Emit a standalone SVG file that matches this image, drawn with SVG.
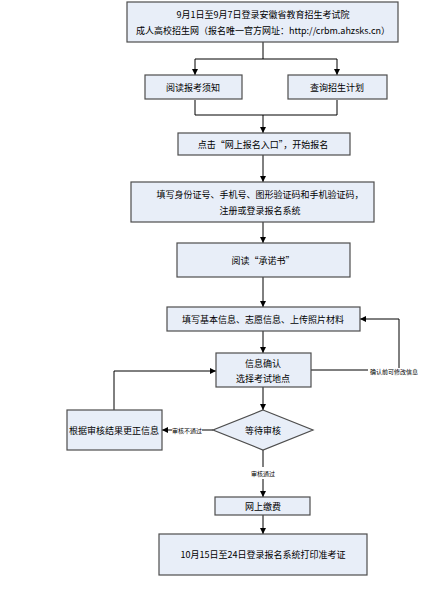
<svg xmlns="http://www.w3.org/2000/svg" width="427" height="594" viewBox="0 0 427 594">
<style>
.box{fill:#e8eef8;stroke:#4d4d4d;stroke-width:1.2}
.t{font-family:"Noto Sans CJK SC","Liberation Sans",sans-serif;font-size:9px;fill:#000;text-anchor:middle;dominant-baseline:central}
.s{font-family:"Noto Sans CJK SC","Liberation Sans",sans-serif;font-size:6px;fill:#000;text-anchor:middle;dominant-baseline:central}
.c{fill:none;stroke:#000;stroke-width:1}
</style>
<defs>
<marker id="a" viewBox="0 0 8 8" refX="8" refY="4" markerWidth="6" markerHeight="6" markerUnits="userSpaceOnUse" orient="auto"><path d="M0,0 L8,4 L0,8 z" fill="#000"/></marker>
</defs>
<rect width="427" height="594" fill="#fff"/>
<g id="connectors">
<path class="c" d="M263,42 V59 H337 V75" marker-end="url(#a)"/>
<path class="c" d="M263,59 H195 V75" marker-end="url(#a)"/>
<path class="c" d="M195,100 V115 H337 V100"/>
<path class="c" d="M263,115 V133" marker-end="url(#a)"/>
<path class="c" d="M263,155 V182" marker-end="url(#a)"/>
<path class="c" d="M263,222 V243" marker-end="url(#a)"/>
<path class="c" d="M263,277 V307" marker-end="url(#a)"/>
<path class="c" d="M263,331 V353" marker-end="url(#a)"/>
<path class="c" d="M311,370 H368"/>
<path class="c" d="M399,368 V319 H360" marker-end="url(#a)"/>
<path class="c" d="M114,410 V371 H216" marker-end="url(#a)"/>
<path class="c" d="M263,387 V410" marker-end="url(#a)"/>
<path class="c" d="M213,430 H202"/>
<path class="c" d="M172,430 H162" marker-end="url(#a)"/>
<path class="c" d="M263,450 V467"/>
<path class="c" d="M263,479 V497" marker-end="url(#a)"/>
<path class="c" d="M263,515 V534" marker-end="url(#a)"/>
<text class="s" x="394" y="371">确认前可修改信息</text>
<text class="s" x="187" y="430">审核不通过</text>
<text class="s" x="263" y="473">审核通过</text>
</g>
<g id="n1"><rect class="box" x="127" y="2" width="271" height="40"/><text class="t" x="263" y="14">9月1日至9月7日登录安徽省教育招生考试院</text><text class="t" x="263" y="30">成人高校招生网（报名唯一官方网址：http://crbm.ahzsks.cn）</text></g>
<g id="n2"><rect class="box" x="145" y="75" width="97" height="24"/><text class="t" x="193" y="87">阅读报考须知</text></g>
<g id="n3"><rect class="box" x="288" y="75" width="99" height="24"/><text class="t" x="337" y="87">查询招生计划</text></g>
<g id="n4"><rect class="box" x="178" y="133" width="172" height="22"/><text class="t" x="263" y="144">点击“网上报名入口”，开始报名</text></g>
<g id="n5"><rect class="box" x="131" y="182" width="243" height="40"/><text class="t" x="260" y="194">填写身份证号、手机号、图形验证码和手机验证码，</text><text class="t" x="260" y="210">注册或登录报名系统</text></g>
<g id="n6"><rect class="box" x="177" y="243" width="173" height="34"/><text class="t" x="263" y="260">阅读“承诺书”</text></g>
<g id="n7"><rect class="box" x="167" y="307" width="193" height="24"/><text class="t" x="263" y="319">填写基本信息、志愿信息、上传照片材料</text></g>
<g id="n8"><rect class="box" x="216" y="353" width="95" height="34"/><text class="t" x="263" y="363">信息确认</text><text class="t" x="263" y="378">选择考试地点</text></g>
<g id="n9"><rect class="box" x="67" y="410" width="95" height="40"/><text class="t" x="114" y="430">根据审核结果更正信息</text></g>
<g id="n10"><path class="box" d="M263,410 L313,430 L263,450 L213,430 Z"/><text class="t" x="263" y="430">等待审核</text></g>
<g id="n11"><rect class="box" x="215" y="497" width="95" height="18"/><text class="t" x="263" y="506">网上缴费</text></g>
<g id="n12"><rect class="box" x="159" y="534" width="208" height="41"/><text class="t" x="263" y="554">10月15日至24日登录报名系统打印准考证</text></g>
</svg>
